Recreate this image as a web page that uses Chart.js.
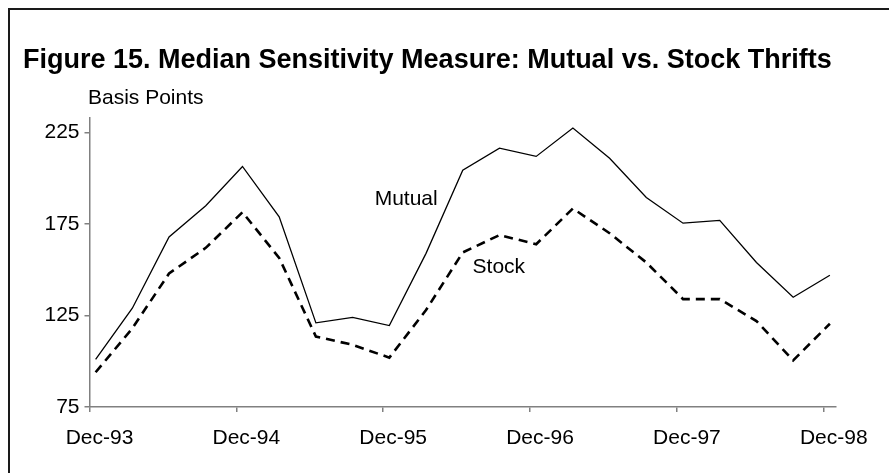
<!DOCTYPE html>
<html>
<head>
<meta charset="utf-8">
<script src="https://cdn.jsdelivr.net/npm/chart.js@4"></script>
<style>
  html, body { margin: 0; padding: 0; background: #fff; }
  #wrap { width: 889px; height: 473px; }
</style>
</head>
<body>
<div id="wrap"><canvas id="FigChart" width="889" height="473"></canvas></div>
<script>
// quarterly observations, Dec-93 .. Dec-98
var quarters = ["Dec-93","Mar-94","Jun-94","Sep-94","Dec-94","Mar-95","Jun-95","Sep-95","Dec-95",
                "Mar-96","Jun-96","Sep-96","Dec-96","Mar-97","Jun-97","Sep-97","Dec-97",
                "Mar-98","Jun-98","Sep-98","Dec-98"];
var mutual = [101, 129, 168, 185, 206.5, 179, 121, 124, 119.5, 159, 204.5, 216.5, 212, 227.5,
              211, 189.5, 175.5, 177, 154, 135, 147];
var stock = [94, 118, 148, 162, 181.5, 156.5, 113.5, 109, 102, 128, 159.5, 169, 164, 183.5,
             170, 154, 134, 134, 122, 100.5, 120.5];
var yTicks = [75, 125, 175, 225];
var xTickLabels = ["Dec-93", "Dec-94", "Dec-95", "Dec-96", "Dec-97", "Dec-98"];

// x axis runs in months from Dec-93; each quarter's value sits half a month past its tick
function toPoints(vals){
    return vals.map(function(v, i){ return {x: i * 3 + 0.5, y: v}; });
}

var FONT = "'Liberation Sans', Arial, sans-serif";

var decor = {
    id: "decor",
    afterDraw: function(chart){
        var c = chart.ctx;
        var xs = chart.scales.x, ys = chart.scales.y;
        c.save();
        // frame, left and top edges
        c.strokeStyle = "#1a1a1a";
        c.lineWidth = 2;
        c.beginPath();
        c.moveTo(9, 473);
        c.lineTo(9, 9);
        c.lineTo(889, 9);
        c.stroke();

        c.fillStyle = "#000";
        c.textBaseline = "alphabetic";
        c.textAlign = "left";
        c.font = "bold 27px " + FONT;
        c.fillText("Figure 15. Median Sensitivity Measure: Mutual vs. Stock Thrifts", 23, 68);
        c.font = "21px " + FONT;
        c.fillText("Basis Points", 88, 104);
        c.textBaseline = "middle";
        c.fillText("Mutual", xs.getPixelForValue(23.3), ys.getPixelForValue(188.5));
        c.fillText("Stock", xs.getPixelForValue(31.3), ys.getPixelForValue(151.3));
        c.restore();
    }
};

var ctx = document.getElementById("FigChart");
new Chart(ctx, {
    type: "line",
    data: {
        datasets: [{
            label: "Mutual",
            data: toPoints(mutual),
            borderColor: "#000",
            borderWidth: 1.3,
            pointRadius: 0,
            tension: 0,
            fill: false
        }, {
            label: "Stock",
            data: toPoints(stock),
            borderColor: "#000",
            borderWidth: 2.6,
            borderDash: [9, 6],
            pointRadius: 0,
            tension: 0,
            fill: false
        }]
    },
    options: {
        responsive: false,
        animation: false,
        layout: { padding: { top: 118, right: 53, bottom: 0, left: 0 } },
        plugins: {
            legend: { display: false },
            title: { display: false },
            tooltip: { enabled: false }
        },
        scales: {
            x: {
                type: "linear",
                min: 0,
                max: 61,
                afterBuildTicks: function(s){
                    s.ticks = xTickLabels.map(function(l, i){ return {value: i * 12}; });
                },
                afterFit: function(s){ s.height = 66; },
                ticks: {
                    autoSkip: false,
                    maxRotation: 0,
                    padding: 14,
                    labelOffset: 10,
                    color: "#000",
                    font: { family: FONT, size: 21 },
                    callback: function(v){ return xTickLabels[Math.round(v / 12)]; }
                },
                grid: { drawOnChartArea: false, tickLength: 5, color: "#808080", lineWidth: 1.5 },
                border: { color: "#808080", width: 1.5 }
            },
            y: {
                min: 75,
                max: 233,
                afterBuildTicks: function(s){
                    s.ticks = yTicks.map(function(v){ return {value: v}; });
                },
                afterFit: function(s){ s.width = 89.5; },
                ticks: {
                    padding: 5,
                    color: "#000",
                    font: { family: FONT, size: 21 }
                },
                grid: { drawOnChartArea: false, tickLength: 5, color: "#808080", lineWidth: 1.5 },
                border: { color: "#808080", width: 1.5 }
            }
        }
    },
    plugins: [decor]
});
</script>
</body>
</html>
